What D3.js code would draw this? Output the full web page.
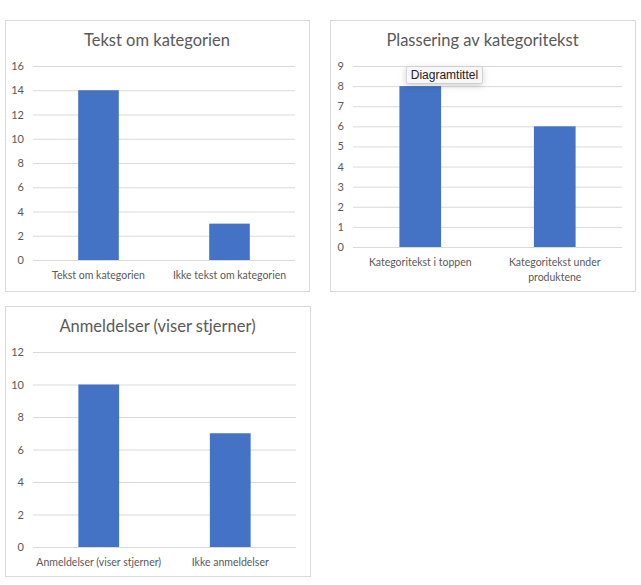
<!DOCTYPE html>
<html>
<head>
<meta charset="utf-8">
<script src="https://cdn.jsdelivr.net/npm/d3@7"></script>
<style>
  html, body { margin: 0; padding: 0; background: #fff; }
  svg { display: block; }
  text { font-family: Lato, "Open Sans", sans-serif; }
</style>
</head>
<body>
<svg id="chart" width="641" height="585"></svg>
<script>
// ---- Data ----
const chart1Title = "Tekst om kategorien";
const chart1Categories = ["Tekst om kategorien", "Ikke tekst om kategorien"];
const chart1Values = [14, 3];
const chart1Ticks = [0, 2, 4, 6, 8, 10, 12, 14, 16];

const chart2Title = "Plassering av kategoritekst";
const chart2Categories = ["Kategoritekst i toppen", "Kategoritekst under produktene"];
const chart2Values = [8, 6];
const chart2Ticks = [0, 1, 2, 3, 4, 5, 6, 7, 8, 9];

const chart3Title = "Anmeldelser (viser stjerner)";
const chart3Categories = ["Anmeldelser (viser stjerner)", "Ikke anmeldelser"];
const chart3Values = [10, 7];
const chart3Ticks = [0, 2, 4, 6, 8, 10, 12];

const tooltipText = "Diagramtittel";

// ---- Style ----
const barColor = "#4472C4";
const gridColor = "#d9d9d9";
const textColor = "#595959";

const svg = d3.select("#chart");
svg.append("rect").attr("width", 641).attr("height", 585).attr("fill", "#fff");

function wrapText(sel, width) {
  sel.each(function() {
    const t = d3.select(this);
    const words = t.text().split(/\s+/);
    const x = t.attr("x"), y = t.attr("y");
    t.text(null);
    let line = [];
    let lineNo = 0;
    let tspan = t.append("tspan").attr("x", x).attr("y", y);
    for (const w of words) {
      line.push(w);
      tspan.text(line.join(" "));
      if (tspan.node().getComputedTextLength() > width && line.length > 1) {
        line.pop();
        tspan.text(line.join(" "));
        line = [w];
        lineNo++;
        tspan = t.append("tspan").attr("x", x).attr("y", +y + lineNo * 15).text(w);
      }
    }
  });
}

function drawPanel(cfg) {
  const g = svg.append("g");
  const b = cfg.box;
  g.append("rect")
    .attr("x", b.x + 0.5).attr("y", b.y + 0.5)
    .attr("width", b.w).attr("height", b.h)
    .attr("fill", "#fff").attr("stroke", gridColor).attr("stroke-width", 1);

  g.append("text")
    .attr("x", b.x + b.w / 2 + cfg.titleDx).attr("y", cfg.titleY)
    .attr("text-anchor", "middle")
    .attr("fill", textColor)
    .style("font-size", "16.5px")
    .text(cfg.title);

  const p = cfg.plot;
  const x = d3.scaleBand().domain(cfg.categories).range([p.left, p.right]).paddingInner(0.69).paddingOuter(0.345);
  const y = d3.scaleLinear().domain([0, d3.max(cfg.ticks)]).range([p.bottom, p.top]);

  // gridlines
  const yAxis = d3.axisLeft(y).tickValues(cfg.ticks).tickSize(-(p.right - p.left)).tickPadding(9).tickFormat(d3.format("d"));
  const ag = g.append("g").attr("transform", `translate(${p.left},0)`).call(yAxis);
  ag.select(".domain").remove();
  ag.selectAll(".tick line").attr("stroke", gridColor).attr("stroke-width", 1);
  ag.selectAll(".tick text").attr("fill", textColor).style("font-size", "11px").style("font-family", "Lato, 'Open Sans', sans-serif");

  // bars
  g.selectAll("rect.bar").data(cfg.values).enter().append("rect")
    .attr("class", "bar")
    .attr("x", (d, i) => x(cfg.categories[i]))
    .attr("y", d => y(d))
    .attr("width", x.bandwidth())
    .attr("height", d => y(0) - y(d))
    .attr("fill", barColor);

  // category labels
  const xl = g.selectAll("text.cat").data(cfg.categories).enter().append("text")
    .attr("class", "cat")
    .attr("x", d => x(d) + x.bandwidth() / 2)
    .attr("y", p.bottom + 19)
    .attr("text-anchor", "middle")
    .attr("fill", textColor)
    .style("font-size", "10.5px")
    .text(d => d);
  xl.call(wrapText, cfg.wrapWidth);
  return { g, x, y };
}

drawPanel({
  box: { x: 5, y: 20, w: 304, h: 271 },
  title: chart1Title, titleY: 46, titleDx: 0,
  plot: { left: 33, right: 295, top: 66, bottom: 260 },
  categories: chart1Categories, values: chart1Values, ticks: chart1Ticks,
  wrapWidth: 200
});

const p2 = drawPanel({
  box: { x: 330, y: 20, w: 305, h: 271 },
  title: chart2Title, titleY: 46, titleDx: 0,
  plot: { left: 353, right: 622, top: 66, bottom: 247 },
  categories: chart2Categories, values: chart2Values, ticks: chart2Ticks,
  wrapWidth: 120
});

drawPanel({
  box: { x: 5, y: 306, w: 305, h: 270 },
  title: chart3Title, titleY: 332, titleDx: 0,
  plot: { left: 33, right: 296, top: 352, bottom: 547 },
  categories: chart3Categories, values: chart3Values, ticks: chart3Ticks,
  wrapWidth: 200
});

// tooltip over chart 2
const defs = svg.append("defs");
const f = defs.append("filter").attr("id", "shadow").attr("x", "-30%").attr("y", "-50%").attr("width", "160%").attr("height", "220%");
f.append("feDropShadow").attr("dx", 0).attr("dy", 2).attr("stdDeviation", 3).attr("flood-color", "#000").attr("flood-opacity", 0.18);
const tg = svg.append("g");
const tx = p2.x(chart2Categories[0]) + 7, ty = p2.y(9);
const tt = tg.append("text")
  .attr("x", tx + 38).attr("y", ty + 12.5)
  .attr("text-anchor", "middle")
  .attr("fill", "#222")
  .style("font-size", "12px")
  .style("font-family", "'Liberation Sans', Arial, sans-serif")
  .text(tooltipText);
const tw = tt.node().getComputedTextLength();
tg.insert("rect", "text")
  .attr("x", tx + 38 - tw / 2 - 4.5).attr("y", ty + 0.5)
  .attr("width", tw + 9).attr("height", 17)
  .attr("rx", 2)
  .attr("fill", "#f7f7f7").attr("stroke", "#cfcfcf")
  .attr("filter", "url(#shadow)");
</script>
</body>
</html>
